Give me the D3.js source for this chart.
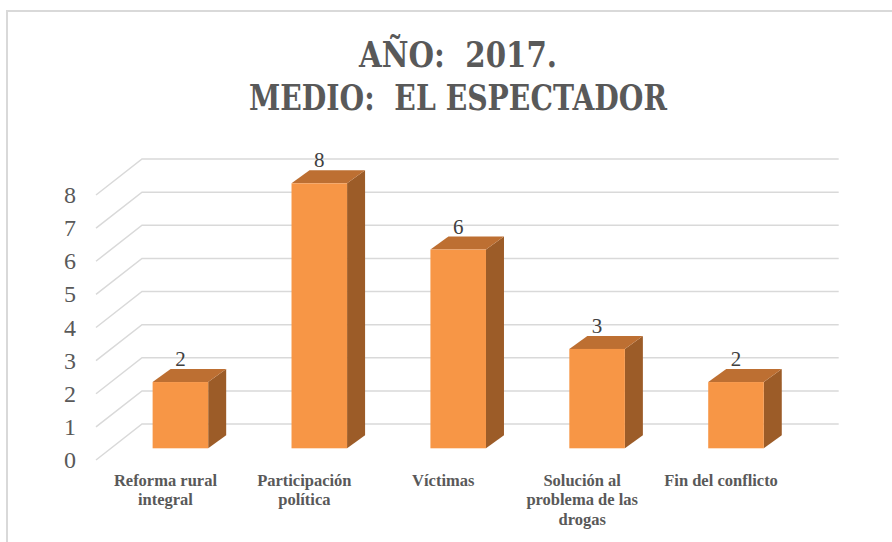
<!DOCTYPE html>
<html lang="es">
  <head>
    <meta charset="UTF-8" />
    <title>Año 2017 - El Espectador</title>
    <script src="https://cdn.jsdelivr.net/npm/d3@7/dist/d3.min.js"></script>
    <style>
      body {
        margin: 0;
        background: #fff;
      }
      text {
        font-family: "Liberation Serif", "DejaVu Serif", serif;
        white-space: pre;
      }
      .title {
        font-family: "DejaVu Serif", "Liberation Serif", serif;
      }
    </style>
  </head>
  <body>
    <div id="wrapper"></div>
    <script>
      const categories = [
        "Reforma rural integral",
        "Participación política",
        "Víctimas",
        "Solución al problema de las drogas",
        "Fin del conflicto",
      ];
      const categoryLines = [
        ["Reforma rural", "integral"],
        ["Participación", "política"],
        ["Víctimas"],
        ["Solución al", "problema de las", "drogas"],
        ["Fin del conflicto"],
      ];
      const values = [2, 8, 6, 3, 2];
      const yTicks = [0, 1, 2, 3, 4, 5, 6, 7, 8];
      const titleLines = ["AÑO:  2017.", "MEDIO:  EL ESPECTADOR"];

      const dimensions = {
        width: 892,
        height: 542,
        floorY: 460, // front edge of the floor
        depthX: 46, // full depth of the 3d box
        depthY: -36,
        barDepthStart: 0.325,
        barDepthX: 18,
        barDepthY: -13,
      };

      const svg = d3
        .select("#wrapper")
        .append("svg")
        .attr("width", dimensions.width)
        .attr("height", dimensions.height);

      // chart frame (only top and left edges visible)
      svg
        .append("path")
        .attr("d", "M7,542 L7,11 L892,11")
        .attr("fill", "none")
        .attr("stroke", "#d9d9d9")
        .attr("stroke-width", 2);

      // title
      const titleWidths = [198, 418];
      svg
        .append("g")
        .selectAll("text")
        .data(titleLines)
        .join("text")
        .attr("class", "title")
        .attr("x", 458)
        .attr("y", (d, i) => 67 + i * 43)
        .attr("text-anchor", "middle")
        .attr("font-size", 36)
        .attr("font-weight", "bold")
        .attr("fill", "#595959")
        .attr("textLength", (d, i) => titleWidths[i])
        .attr("lengthAdjust", "spacingAndGlyphs")
        .text((d) => d);

      const xScale = d3
        .scaleBand()
        .domain(categories)
        .range([96, 790.5])
        .paddingInner(0.6)
        .paddingOuter(0.3);

      const hScale = d3.scaleLinear().domain([0, 8]).range([0, 265]);

      // gridlines: side wall diagonal + back wall horizontal
      const gridEnd = 838.7;
      const grid = svg.append("g");
      grid
        .selectAll("path")
        .data(yTicks)
        .join("path")
        .attr("d", (d) => {
          const y0 = dimensions.floorY - hScale(d);
          const x0 = 96;
          const x1 = x0 + dimensions.depthX;
          const y1 = y0 + dimensions.depthY;
          return `M${x0},${y0} L${x1},${y1} L${gridEnd},${y1}`;
        })
        .attr("fill", "none")
        .attr("stroke", "#d9d9d9")
        .attr("stroke-width", 1.5);

      // y axis labels
      svg
        .append("g")
        .selectAll("text")
        .data(yTicks)
        .join("text")
        .attr("x", 76)
        .attr("y", (d) => dimensions.floorY - hScale(d) + 8)
        .attr("text-anchor", "end")
        .attr("font-size", 24)
        .attr("fill", "#595959")
        .text((d) => d);

      // bars
      const shiftX = dimensions.depthX * dimensions.barDepthStart;
      const shiftY = dimensions.depthY * dimensions.barDepthStart;
      const barBase = dimensions.floorY + shiftY;
      const dx = dimensions.barDepthX;
      const dy = dimensions.barDepthY;
      const bw = xScale.bandwidth();

      const barData = categories.map((c, i) => ({ cat: c, value: values[i] }));
      const bars = svg
        .append("g")
        .selectAll("g")
        .data(barData)
        .join("g");

      // right side face
      bars
        .append("path")
        .attr("d", (d) => {
          const x = xScale(d.cat) + shiftX + bw;
          const top = barBase - hScale(d.value);
          return `M${x},${barBase} L${x},${top} L${x + dx},${top + dy} L${
            x + dx
          },${barBase + dy} Z`;
        })
        .attr("fill", "#9c5c28");

      // top face
      bars
        .append("path")
        .attr("d", (d) => {
          const x = xScale(d.cat) + shiftX;
          const top = barBase - hScale(d.value);
          return `M${x},${top} L${x + bw},${top} L${x + bw + dx},${
            top + dy
          } L${x + dx},${top + dy} Z`;
        })
        .attr("fill", "#bd6f32");

      // front face
      bars
        .append("rect")
        .attr("x", (d) => xScale(d.cat) + shiftX)
        .attr("y", (d) => barBase - hScale(d.value))
        .attr("width", bw)
        .attr("height", (d) => hScale(d.value))
        .attr("fill", "#f79646");

      // value labels
      bars
        .append("text")
        .attr("x", (d) => xScale(d.cat) + shiftX + bw / 2)
        .attr("y", (d) => barBase - hScale(d.value) - 16)
        .attr("text-anchor", "middle")
        .attr("font-size", 21)
        .attr("fill", "#404040")
        .text((d) => d.value);

      // category labels
      const xLabels = svg
        .append("g")
        .selectAll("text")
        .data(categories)
        .join("text")
        .attr("x", (d) => xScale(d) + bw / 2)
        .attr("y", 486)
        .attr("text-anchor", "middle")
        .attr("font-size", 16.5)
        .attr("font-weight", "bold")
        .attr("fill", "#595959");

      xLabels
        .selectAll("tspan")
        .data((d, i) => categoryLines[i])
        .join("tspan")
        .attr("x", function () {
          return this.parentNode.getAttribute("x");
        })
        .attr("dy", (d, i) => (i === 0 ? 0 : 19.3))
        .text((d) => d);
    </script>
  </body>
</html>
